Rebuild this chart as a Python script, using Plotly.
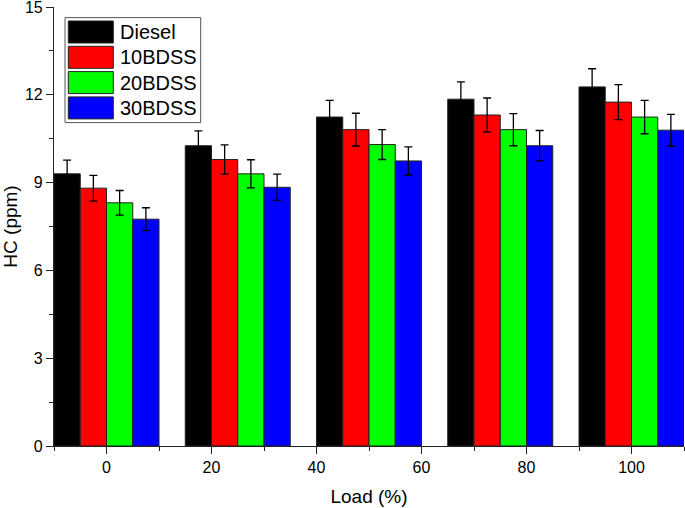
import plotly.graph_objects as go

loads = [0, 25, 50, 75, 100]
series = ["Diesel", "10BDSS", "20BDSS", "30BDSS"]
colors = ["#000000", "#FF0000", "#00FF00", "#0000FF"]
diesel = [9.30, 10.26, 11.24, 11.85, 12.27]
bd10 = [8.81, 9.79, 10.81, 11.31, 11.75]
bd20 = [8.31, 9.30, 10.30, 10.81, 11.24]
bd30 = [7.75, 8.84, 9.74, 10.26, 10.79]
err_diesel = [0.47, 0.51, 0.57, 0.59, 0.62]
err_bd10 = [0.44, 0.50, 0.56, 0.58, 0.60]
err_bd20 = [0.42, 0.48, 0.51, 0.55, 0.57]
err_bd30 = [0.39, 0.45, 0.48, 0.52, 0.54]
x_ticks = [0, 20, 40, 60, 80, 100]
y_ticks = [0, 3, 6, 9, 12, 15]

values = [diesel, bd10, bd20, bd30]
errors = [err_diesel, err_bd10, err_bd20, err_bd30]

W, H = 685, 508
ML, MR, MT, MB = 54, 1, 6.7, 62.3
PW, PH = W - ML - MR, H - MT - MB

fig = go.Figure()
for name, col, v, e in zip(series, colors, values, errors):
    fig.add_trace(go.Bar(
        x=loads, y=v, name=name,
        marker=dict(color=col, line=dict(color="#222222", width=1)),
        error_y=dict(type="data", array=e, visible=True, color="#000000",
                     thickness=1.3, width=4),
        showlegend=False,
    ))

def px2x(px):
    return (px - ML) / PW

def px2y(py):
    return (H - MB - py) / PH

shapes = []
annotations = []
# legend box
shapes.append(dict(type="rect", xref="paper", yref="paper",
                   x0=px2x(65), x1=px2x(200.7), y0=px2y(122.3), y1=px2y(17.3),
                   line=dict(color="#555555", width=1), fillcolor="white", layer="above"))
for i, (name, col) in enumerate(zip(series, colors)):
    top = 20.7 + i * 25.3
    shapes.append(dict(type="rect", xref="paper", yref="paper",
                       x0=px2x(68.3), x1=px2x(113.3), y0=px2y(top + 22), y1=px2y(top),
                       line=dict(color="#222222", width=1), fillcolor=col, layer="above"))
    annotations.append(dict(xref="paper", yref="paper", x=px2x(118), y=px2y(top + 11),
                            text=name, showarrow=False, xanchor="left", yanchor="middle",
                            font=dict(family="Liberation Sans, Arial", size=20, color="black")))

fig.update_layout(
    width=W, height=H,
    margin=dict(l=ML, r=MR, t=MT, b=MB, autoexpand=False),
    paper_bgcolor="white", plot_bgcolor="white",
    barmode="group", bargap=0.2, bargroupgap=0,
    font=dict(family="Liberation Sans, Arial", size=16, color="black"),
    shapes=shapes, annotations=annotations,
    showlegend=False,
)
fig.update_xaxes(
    range=[-10, 110], tickmode="array", tickvals=x_ticks, ticktext=[str(t) for t in x_ticks],
    showline=True, linecolor="#222222", linewidth=1.2, mirror=False,
    ticks="outside", ticklen=7, tickwidth=1.2, tickcolor="#222222",
    minor=dict(tickvals=[-10, 10, 30, 50, 70, 90, 110], ticks="outside", ticklen=4,
               tickwidth=1.2, tickcolor="#222222"),
    showgrid=False, zeroline=False,
    tickfont=dict(size=16), ticklabeloverflow="allow",
    title=dict(text="Load (%)", font=dict(size=19), standoff=14),
)
fig.update_yaxes(
    range=[0, 15.0001], tickmode="array", tickvals=y_ticks, ticktext=[str(t) for t in y_ticks],
    showline=True, linecolor="#222222", linewidth=1.2, mirror=False,
    ticks="outside", ticklen=7, tickwidth=1.2, tickcolor="#222222",
    minor=dict(tickvals=[1.5, 4.5, 7.5, 10.5, 13.5], ticks="outside", ticklen=4,
               tickwidth=1.2, tickcolor="#222222"),
    showgrid=False, zeroline=False,
    tickfont=dict(size=16), ticklabeloverflow="allow",
    title=dict(text="HC (ppm)", font=dict(size=19), standoff=14),
)

fig.write_html("out.html", config={"displayModeBar": False},
               post_script="document.body.style.margin='0';document.body.style.overflow='hidden';")
